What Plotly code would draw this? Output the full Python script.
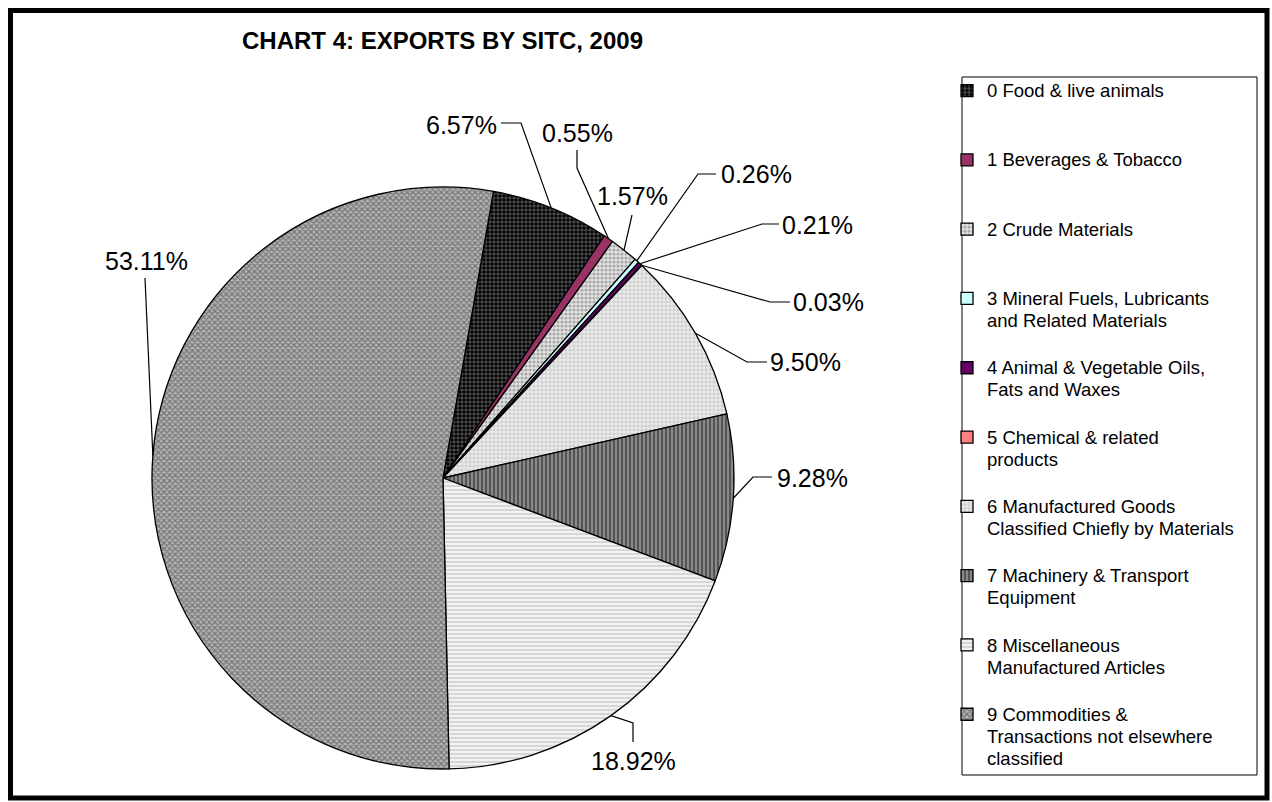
import math
import plotly.graph_objects as go

# ---------------- data ----------------
categories = [
    "0 Food & live animals",
    "1 Beverages & Tobacco",
    "2 Crude Materials",
    "3 Mineral Fuels, Lubricants and Related Materials",
    "4 Animal & Vegetable Oils, Fats and Waxes",
    "5 Chemical & related products",
    "6 Manufactured Goods Classified Chiefly by Materials",
    "7 Machinery & Transport Equipment",
    "8 Miscellaneous Manufactured Articles",
    "9 Commodities & Transactions not elsewhere classified",
]
legend_text = [
    "0 Food & live animals",
    "1 Beverages & Tobacco",
    "2 Crude Materials",
    "3 Mineral Fuels, Lubricants<br>and Related Materials",
    "4 Animal & Vegetable Oils,<br>Fats and Waxes",
    "5 Chemical & related<br>products",
    "6 Manufactured Goods<br>Classified Chiefly by Materials",
    "7 Machinery & Transport<br>Equipment",
    "8 Miscellaneous<br>Manufactured Articles",
    "9 Commodities &<br>Transactions not elsewhere<br>classified",
]
shares = [6.57, 0.55, 1.57, 0.26, 0.21, 0.03, 9.50, 9.28, 18.92, 53.11]
title_text = "CHART 4: EXPORTS BY SITC, 2009"

# ---------------- styles ----------------
W, H = 1272, 802
FONT = "Liberation Sans, Arial, sans-serif"
slice_bg = ["#000000", "#993366", "#e2e2e2", "#ccffff", "#660066",
            "#ff8080", "#ececec", "#8a8a8a", "#f2f2f2", "#b4b4b4"]
slice_fg = ["#ffffff", "#993366", "#707070", "#ccffff", "#660066",
            "#ff8080", "#8c8c8c", "#1e1e1e", "#a0a0a0", "#3a3a3a"]
slice_shape = ["+", "", ".", "", "", "", "+", "|", "-", "x"]
slice_solidity = [0.3, 0.3, 0.5, 0.3, 0.3, 0.3, 0.3, 0.5, 0.35, 0.55]

cx, cy, r = 443, 478, 291          # pie centre / radius (px)
rotation = 10

# label positions (px): text centre, line start near text, knee
label_pos = [(462, 125), (577, 133), (632, 196), (757, 174), (817, 225),
             (828, 302), (805, 362), (812, 478), (633, 761), (146, 261)]
line_start = [(501, 123), (577, 150), (632, 215), (716, 174), (779, 224),
              (790, 302), (767, 362), (772, 477), (633, 742), (145, 278)]
line_knee = [(521, 123), (577, 168), (632, 215), (698, 174), (762, 224),
             (770, 302), (747, 362), (753, 477), (633, 723), (145, 278)]


def px(x):
    return x / W


def py(y):
    return 1 - y / H


names = [
    "<span style='font-size:18.5px'>" + t.replace("<br>", "</span><br><span style='font-size:18.5px'>") + "</span>"
    + "<br>\u00a0" * (2 - t.count("<br>"))
    for t in legend_text
]

fig = go.Figure()
fig.add_trace(go.Pie(
    labels=names,
    values=shares,
    sort=False,
    direction="clockwise",
    rotation=rotation,
    textinfo="none",
    hoverinfo="label+percent",
    marker=dict(
        colors=slice_bg,
        line=dict(color="black", width=1.3),
        pattern=dict(shape=slice_shape, fgcolor=slice_fg, bgcolor=slice_bg,
                     size=4, solidity=slice_solidity, fillmode="overlay"),
    ),
    domain=dict(x=[px(cx - r), px(cx + r)], y=[py(cy + r), py(cy - r)]),
    showlegend=True,
))

shapes = []
annotations = []
total = sum(shares)
cum = 0.0
for i, v in enumerate(shares):
    mid = math.radians(rotation + (cum + v / 2) / total * 360)
    cum += v
    ex = cx + r * math.sin(mid)
    ey = cy - r * math.cos(mid)
    sx, sy = line_start[i]
    kx, ky = line_knee[i]
    path = (f"M {px(sx)},{py(sy)} L {px(kx)},{py(ky)} L {px(ex)},{py(ey)}")
    shapes.append(dict(type="path", xref="paper", yref="paper", path=path,
                       line=dict(color="black", width=1.2)))
    tx, ty = label_pos[i]
    annotations.append(dict(x=px(tx), y=py(ty), xref="paper", yref="paper",
                            text=f"{v:.2f}%", showarrow=False,
                            xanchor="center", yanchor="middle",
                            font=dict(size=25, color="black", family=FONT)))

# title
annotations.append(dict(x=px(240), y=py(40), xref="paper", yref="paper",
                        text=f"<b>{title_text}</b>", showarrow=False,
                        xanchor="left", yanchor="middle",
                        font=dict(size=24, color="black", family=FONT)))

# outer frame
shapes.append(dict(type="rect", xref="paper", yref="paper",
                   x0=px(10.5), x1=px(1267), y0=py(798), y1=py(10.5),
                   line=dict(color="black", width=5)))
# legend box
shapes.append(dict(type="rect", xref="paper", yref="paper",
                   x0=px(962), x1=px(1257), y0=py(775), y1=py(77),
                   line=dict(color="black", width=1)))

fig.update_layout(
    width=W, height=H,
    margin=dict(l=0, r=0, t=0, b=0),
    paper_bgcolor="white", plot_bgcolor="white",
    font=dict(family=FONT, color="black"),
    shapes=shapes,
    annotations=annotations,
    legend=dict(x=px(947), y=py(73), xanchor="left", yanchor="top",
                bgcolor="rgba(0,0,0,0)", borderwidth=0,
                font=dict(size=17, color="black", family=FONT),
                valign="top", itemwidth=30, traceorder="normal"),
)

fig.write_html(
    "out.html",
    config={"displayModeBar": False},
    post_script="document.body.style.margin='0';document.body.style.overflow='hidden';",
)
